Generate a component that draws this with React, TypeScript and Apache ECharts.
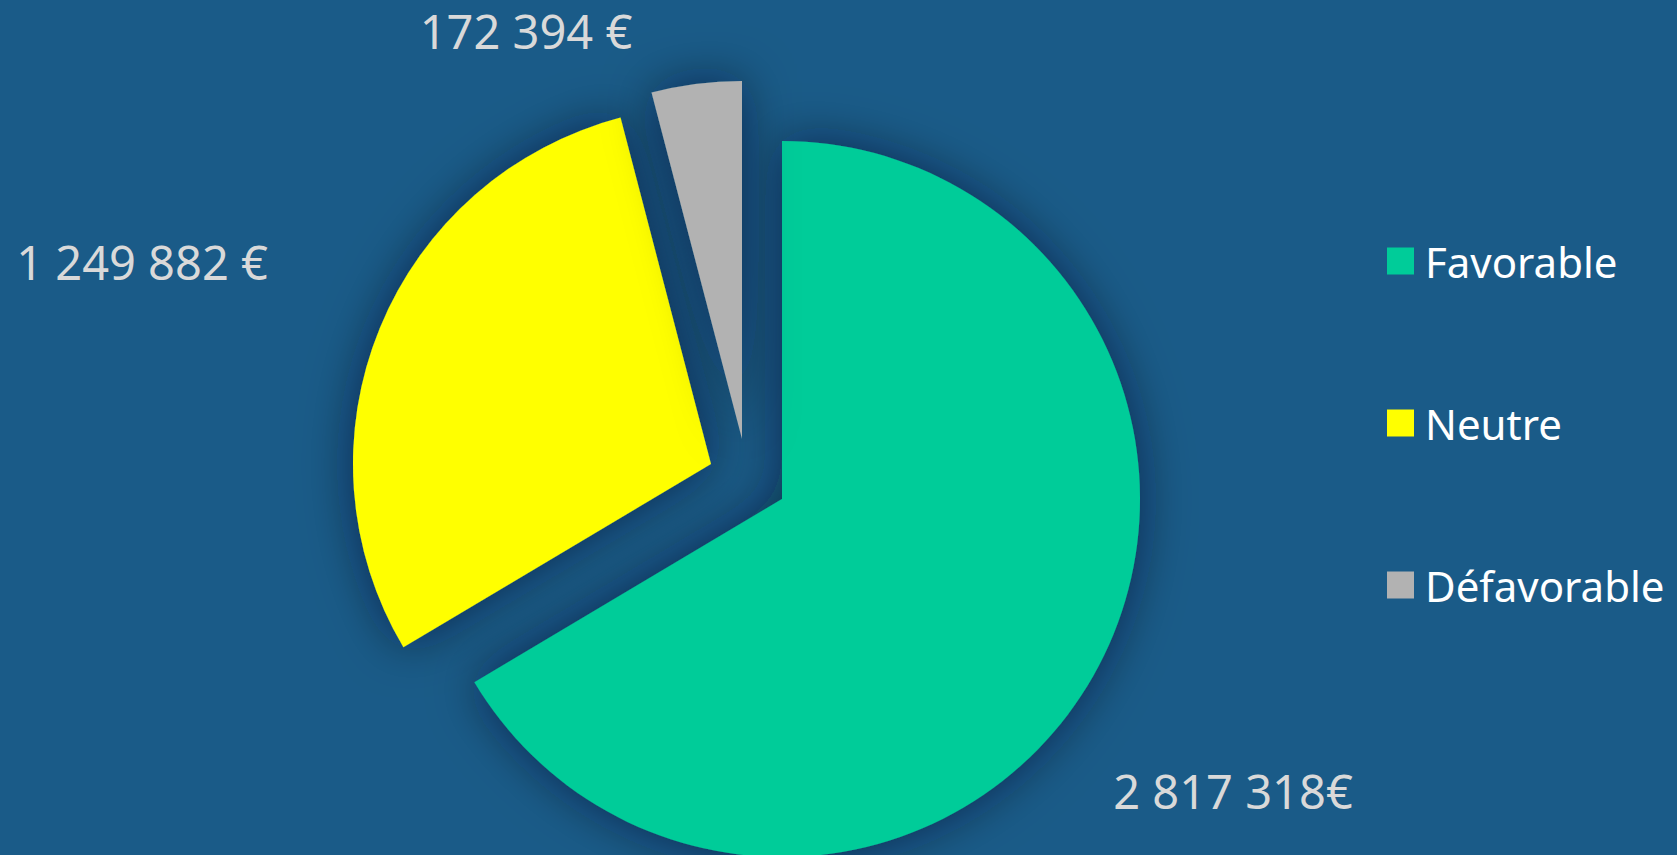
import React, { useEffect, useRef } from "react";
import * as echarts from "echarts";

const categories = ["Favorable", "Neutre", "Défavorable"];
const values = [2817318, 1249882, 172394];
const valueLabels = ["2 817 318€", "1 249 882 €", "172 394 €"];
const colors = ["#00CC99", "#FFFF00", "#B2B2B2"];

// per-slice centre (explosion) and label anchor, in pixels
const sliceCenters = [
  [782, 499],
  [711, 464],
  [742, 439],
];
const labelAnchors = [
  [1233, 791],
  [142, 262],
  [526, 31],
];

export default function App() {
  const ref = useRef<HTMLDivElement>(null);
  useEffect(() => {
    document.body.style.margin = "0";
    const chart = echarts.init(ref.current!, null, { renderer: "svg" });
    const series = categories.map((_, s) => ({
      type: "pie",
      name: categories[s],
      center: sliceCenters[s],
      radius: 358,
      startAngle: 90,
      clockwise: true,
      silent: true,
      z: s === 0 ? 2 : 3,
      labelLine: { show: false },
      labelLayout: (p: any) =>
        p.dataIndex === s
          ? { x: labelAnchors[s][0], y: labelAnchors[s][1], align: "center", verticalAlign: "middle" }
          : {},
      data: categories.map((name, i) => ({
        name,
        value: values[i],
        itemStyle:
          i === s
            ? {
                color: colors[i],
                shadowBlur: 50,
                shadowColor: "rgba(0,10,30,0.55)",
              }
            : { color: "rgba(0,0,0,0)", shadowBlur: 0 },
        label: {
          show: i === s,
          position: "outside",
          formatter: valueLabels[i],
          color: "#D9D9D9",
          fontSize: 47,
          fontFamily: "Noto Sans",
        },
      })),
    }));
    chart.setOption({
      animation: false,
      backgroundColor: "#1A5B88",
      legend: {
        orient: "vertical",
        left: 1387,
        top: 240,
        itemWidth: 27,
        itemHeight: 27,
        itemGap: 120,
        icon: "rect",
        selectedMode: false,
        padding: 0,
        textStyle: {
          color: "#FFFFFF",
          fontSize: 42,
          lineHeight: 42,
          fontFamily: "Noto Sans",
          padding: [0, 0, 0, 6],
        },
        data: categories.map((name, i) => ({ name, itemStyle: { color: colors[i] } })),
      },
      series,
    });
    return () => chart.dispose();
  }, []);
  return <div ref={ref} style={{ width: 1677, height: 855 }} />;
}
